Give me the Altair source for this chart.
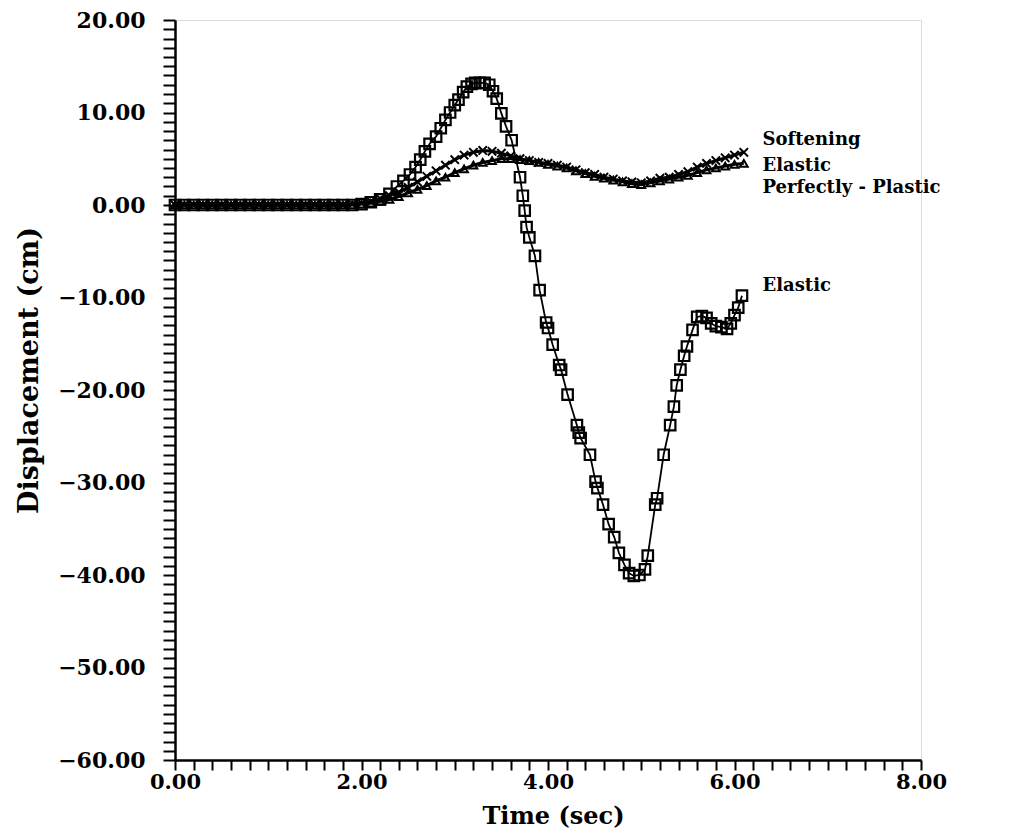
import altair as alt
import pandas as pd

# ---------------- data ----------------
elastic_t = [0.0, 0.1, 0.2, 0.3, 0.4, 0.5, 0.6, 0.7, 0.8, 0.9, 1.0, 1.1, 1.2, 1.3, 1.4, 1.5,
             1.6, 1.7, 1.8, 1.9, 2.0, 2.1, 2.2, 2.3, 2.38, 2.45, 2.52, 2.58, 2.63, 2.68, 2.73,
             2.8, 2.85, 2.9, 2.95, 3.0, 3.04, 3.09, 3.13, 3.18, 3.22, 3.27, 3.32, 3.37, 3.41,
             3.45, 3.5, 3.55, 3.61, 3.7, 3.73, 3.75, 3.77, 3.8, 3.86, 3.91, 3.98, 4.0, 4.05,
             4.12, 4.14, 4.21, 4.31, 4.33, 4.35, 4.45, 4.51, 4.53, 4.59, 4.65, 4.71, 4.76,
             4.82, 4.87, 4.92, 4.98, 5.04, 5.07, 5.15, 5.17, 5.24, 5.31, 5.35, 5.38, 5.42,
             5.46, 5.49, 5.55, 5.6, 5.65, 5.7, 5.75, 5.8, 5.86, 5.92, 5.96, 6.0, 6.04, 6.08]
elastic_d = [0.0, 0.0, 0.0, 0.0, 0.0, 0.0, 0.0, 0.0, 0.0, 0.0, 0.0, 0.0, 0.0, 0.0, 0.0, 0.0,
             0.0, 0.0, 0.0, 0.0, 0.1, 0.3, 0.6, 1.2, 2.0, 2.6, 3.3, 4.1, 4.9, 5.8, 6.6,
             7.4, 8.3, 9.2, 10.0, 10.8, 11.4, 12.2, 12.8, 13.1, 13.2, 13.2, 13.2, 13.0, 12.3,
             11.5, 9.9, 8.5, 7.0, 3.0, 1.0, -0.6, -2.4, -3.5, -5.5, -9.2, -12.7, -13.3, -15.1,
             -17.3, -17.8, -20.5, -23.8, -24.6, -25.2, -27.0, -29.9, -30.6, -32.4, -34.5, -35.9, -37.6,
             -38.9, -39.8, -40.1, -40.0, -39.4, -37.9, -32.4, -31.7, -27.0, -23.8, -21.8, -19.5, -17.8,
             -16.3, -15.3, -13.5, -12.1, -12.0, -12.2, -12.8, -13.1, -13.2, -13.4, -12.8, -11.9, -11.1, -9.8]

small_t = [0.0, 0.1, 0.2, 0.3, 0.4, 0.5, 0.6, 0.7, 0.8, 0.9, 1.0, 1.1, 1.2, 1.3, 1.4, 1.5,
           1.6, 1.7, 1.8, 1.9, 2.0, 2.1, 2.2, 2.3, 2.4, 2.5, 2.6, 2.7, 2.8, 2.9, 3.0, 3.1,
           3.2, 3.3, 3.4, 3.5, 3.6, 3.7, 3.8, 3.9, 4.0, 4.1, 4.2, 4.3, 4.4, 4.5, 4.6, 4.7,
           4.8, 4.9, 5.0, 5.1, 5.2, 5.3, 5.4, 5.5, 5.6, 5.7, 5.8, 5.9, 6.0, 6.1]
softening_d = [0.0, 0.0, 0.0, 0.0, 0.0, 0.0, 0.0, 0.0, 0.0, 0.0, 0.0, 0.0, 0.0, 0.0, 0.0, 0.0,
               0.0, 0.0, 0.0, 0.1, 0.2, 0.4, 0.7, 1.0, 1.4, 1.9, 2.5, 3.1, 3.7, 4.3, 4.9, 5.4,
               5.7, 5.9, 5.8, 5.6, 5.3, 5.0, 4.8, 4.6, 4.5, 4.3, 4.1, 3.8, 3.5, 3.3, 3.0, 2.8,
               2.6, 2.5, 2.4, 2.6, 2.9, 3.0, 3.3, 3.6, 4.1, 4.5, 4.8, 5.1, 5.4, 5.7]
epp_d = [0.0, 0.0, 0.0, 0.0, 0.0, 0.0, 0.0, 0.0, 0.0, 0.0, 0.0, 0.0, 0.0, 0.0, 0.0, 0.0,
         0.0, 0.0, 0.0, 0.0, 0.1, 0.2, 0.4, 0.6, 0.9, 1.3, 1.7, 2.1, 2.6, 3.0, 3.5, 3.9,
         4.3, 4.6, 4.8, 5.0, 5.0, 4.9, 4.8, 4.6, 4.4, 4.2, 4.0, 3.7, 3.4, 3.1, 2.9, 2.7,
         2.5, 2.3, 2.2, 2.4, 2.6, 2.8, 3.0, 3.2, 3.5, 3.8, 4.0, 4.2, 4.4, 4.5]

label_text = ["Softening", "Elastic", "Perfectly - Plastic", "Elastic"]
label_t = [6.3, 6.3, 6.3, 6.3]
label_d = [7.0, 4.25, 1.85, -8.75]

x_ticks = [round(i * 0.2, 1) for i in range(41)]
y_ticks = list(range(-60, 21))

# ---------------- tables ----------------
df_el = pd.DataFrame({"t": elastic_t, "d": elastic_d})
df_soft = pd.DataFrame({"t": small_t, "d": softening_d})
df_epp = pd.DataFrame({"t": small_t, "d": epp_d})
df_lab = pd.DataFrame({"t": label_t, "d": label_d, "txt": label_text})

FONT = "DejaVu Serif"

xs = alt.Scale(domain=[0, 8], nice=False, zero=False)
ys = alt.Scale(domain=[-60, 20], nice=False, zero=False)

x_axis = alt.Axis(
    values=x_ticks, title="Time (sec)",
    labelExpr="abs(datum.value/2 - round(datum.value/2)) < 0.001 ? format(datum.value, '.2f') : ''",
    labelOverlap=False, labelFlush=False, labelAlign="center",
    labelFont=FONT, labelFontWeight="bold", labelFontSize=21,
    labelColor="black", labelPadding=1, tickSize=10, tickWidth=2, tickColor="black",
    domainColor="black", domainWidth=2.5, grid=False,
    titleFont=FONT, titleFontWeight="bold", titleFontSize=24, titleColor="black",
    titleX=378, titleY=56, titleBaseline="middle",
)
y_axis = alt.Axis(
    values=y_ticks, title="Displacement (cm)",
    labelExpr="datum.value % 10 === 0 ? format(datum.value, '.2f') : ''",
    labelOverlap=False, labelFlush=False,
    labelFont=FONT, labelFontWeight="bold", labelFontSize=22,
    labelColor="black", labelPadding=18, tickSize=12, tickWidth=2, tickColor="black",
    domainColor="black", domainWidth=2.5, grid=False,
    titleFont=FONT, titleFontWeight="bold", titleFontSize=27, titleColor="black",
    titleX=-146, titleY=350, titleBaseline="middle", titleAngle=-90, titleAlign="center",
)

X = alt.X("t:Q", scale=xs, axis=x_axis)
Y = alt.Y("d:Q", scale=ys, axis=y_axis)

el_line = alt.Chart(df_el).mark_line(color="black", strokeWidth=1.8).encode(x=X, y=Y)
el_pts = alt.Chart(df_el).mark_point(shape="square", filled=False, size=110,
                                     strokeWidth=2.2, color="black", opacity=1).encode(x=X, y=Y)
soft_line = alt.Chart(df_soft).mark_line(color="black", strokeWidth=3).encode(x=X, y=Y)
soft_pts = alt.Chart(df_soft).mark_point(shape="M-1,-1L1,1M1,-1L-1,1", filled=False, size=70,
                                         strokeWidth=2, color="black", opacity=1).encode(x=X, y=Y)
epp_line = alt.Chart(df_epp).mark_line(color="black", strokeWidth=3).encode(x=X, y=Y)
epp_pts = alt.Chart(df_epp).mark_point(shape="triangle-up", filled=False, size=60,
                                       strokeWidth=2, color="black", opacity=1).encode(x=X, y=Y)
labels = alt.Chart(df_lab).mark_text(align="left", baseline="middle", font=FONT,
                                     fontWeight="bold", fontSize=18, color="black").encode(
    x=X, y=Y, text="txt:N")

chart = alt.layer(epp_line, epp_pts, soft_line, soft_pts, el_line, el_pts, labels).properties(
    width=746, height=740,
    autosize=alt.AutoSizeParams(type="none"),
    padding={"left": 167, "top": 12, "right": 100, "bottom": 70},
).configure_view(stroke=None).configure(background="white")

chart.save("out.html", embed_options={"renderer": "svg", "actions": False})
